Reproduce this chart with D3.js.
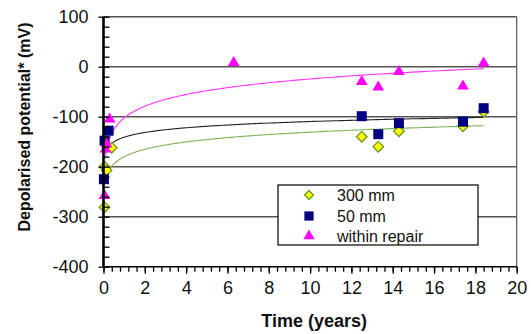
<!DOCTYPE html>
<html><head><meta charset="utf-8">
<script src="https://cdn.jsdelivr.net/npm/d3@7"></script>
<style>
body{margin:0;background:#fff;}
svg{display:block;font-family:"Liberation Sans",Arial,sans-serif;}
</style></head>
<body><svg id="c" width="531" height="334"></svg>
<script>
// ---- data ----
const seriesNames = ["300 mm", "50 mm", "within repair"];
const x300 = [0.05, 0.05, 0.15, 0.4, 12.5, 13.3, 14.3, 17.4, 18.4];
const y300 = [-281, -200, -207, -162, -140, -160, -129, -119, -90];
const x50 = [0.02, 0.05, 0.25, 12.5, 13.3, 14.3, 17.4, 18.4];
const y50 = [-225, -148, -128, -99, -135, -113, -110, -83];
const xRep = [0.05, 0.1, 0.15, 0.3, 6.3, 12.5, 13.3, 14.3, 17.4, 18.4];
const yRep = [-258, -165, -155, -105, 8, -30, -41, -10, -39, 7];
// logarithmic trendlines y = a*ln(x) + b
const trendA = [21.3, 13.6, 33.9];
const trendB = [-180, -141, -102.6];
const trendRange = [0.1, 18.4];
const xTicks = [0, 2, 4, 6, 8, 10, 12, 14, 16, 18, 20];
const yTicks = [100, 0, -100, -200, -300, -400];

const svg = d3.select("#c");
const L = 103.5, R = 516.7, T = 16.7, B = 266.7;
const x = d3.scaleLinear().domain([0, 20]).range([L, R]);
const y = d3.scaleLinear().domain([-400, 100]).range([B, T]);

// plot background
svg.append("rect").attr("x", L).attr("y", T).attr("width", R - L).attr("height", B - T).attr("fill", "#fff");

// gridlines
svg.append("g").selectAll("line").data(yTicks.filter(v => v > -400)).join("line")
  .attr("x1", L).attr("x2", R).attr("y1", d => y(d)).attr("y2", d => y(d))
  .attr("stroke", "#555").attr("stroke-width", 1.4);
// right border
svg.append("line").attr("x1", R).attr("x2", R).attr("y1", T).attr("y2", B)
  .attr("stroke", "#555").attr("stroke-width", 1.2);

// trend lines
const trendColors = ["#7fb35a", "#222", "#ff33ff"];
trendA.forEach((a, i) => {
  const xs = d3.range(0, 301).map(k => trendRange[0] * Math.pow(trendRange[1] / trendRange[0], k / 300));
  svg.append("path")
    .attr("d", d3.line().x(v => x(v)).y(v => y(a * Math.log(v) + trendB[i]))(xs))
    .attr("fill", "none").attr("stroke", trendColors[i]).attr("stroke-width", 1.1);
});

// markers
const diamond = d3.symbol().type(d3.symbolSquare).size(56);
const square = d3.symbol().type(d3.symbolSquare).size(100);
const tri = d3.symbol().type(d3.symbolTriangle).size(60);

function drawMarkers(xs, ys, sym, fill, stroke, sw, rot) {
  svg.append("g").selectAll("path").data(xs.map((v, i) => [v, ys[i]])).join("path")
    .attr("d", sym)
    .attr("transform", d => `translate(${x(d[0])},${y(d[1])}) rotate(${rot})`)
    .attr("fill", fill).attr("stroke", stroke).attr("stroke-width", sw);
}
drawMarkers(x300, y300, diamond, "#ffff00", "#6b9a22", 1.3, 45);
drawMarkers(x50, y50, square, "#000080", "none", 0, 0);
drawMarkers(xRep, yRep, tri, "#ff00ff", "none", 0, 0);

// axes
const fmt = d => String(d);
const xAxis = svg.append("g").attr("transform", `translate(0,${B})`)
  .call(d3.axisBottom(x).tickValues(xTicks).tickSize(7).tickPadding(8).tickFormat(fmt));
const xMinor = svg.append("g").attr("transform", `translate(0,${B})`)
  .call(d3.axisBottom(x).tickValues(d3.range(0, 51).map(k => k * 0.4)).tickSize(5).tickFormat(""));
const yAxis = svg.append("g").attr("transform", `translate(${L},0)`)
  .call(d3.axisLeft(y).tickValues(yTicks).tickSize(5).tickPadding(10).tickFormat(fmt));
const yMinor = svg.append("g").attr("transform", `translate(${L},0)`)
  .call(d3.axisRight(y).tickValues(d3.range(0, 26).map(k => -400 + k * 20)).tickSize(6).tickFormat(""));
[xAxis, xMinor, yAxis, yMinor].forEach(g => {
  g.select(".domain").remove();
  g.selectAll("line").attr("stroke", "#000").attr("stroke-width", 1.3);
  g.selectAll("text").attr("font-size", 18).attr("fill", "#111").attr("font-family", "Liberation Sans, Arial, sans-serif");
});
// axis lines
svg.append("line").attr("x1", L).attr("x2", R).attr("y1", B).attr("y2", B).attr("stroke", "#000").attr("stroke-width", 1.5);
svg.append("line").attr("x1", L).attr("x2", L).attr("y1", T).attr("y2", B).attr("stroke", "#000").attr("stroke-width", 2.6);

// axis titles
svg.append("text").attr("x", (L + R) / 2 + 4).attr("y", 327).attr("text-anchor", "middle")
  .attr("font-size", 18).attr("font-weight", "bold").attr("fill", "#111").text("Time (years)");
svg.append("text").attr("transform", "translate(30,127) rotate(-90)").attr("text-anchor", "middle")
  .attr("font-size", 16).attr("font-weight", "bold").attr("fill", "#111").text("Depolarised potential* (mV)");

// legend
const lg = svg.append("g");
lg.append("rect").attr("x", 278).attr("y", 185).attr("width", 200).attr("height", 60)
  .attr("fill", "#fff").attr("stroke", "#000").attr("stroke-width", 1.2);
const legSyms = [
  {sym: d3.symbol().type(d3.symbolSquare).size(40), fill: "#ffff00", stroke: "#6b9a22", sw: 1.3, rot: 45},
  {sym: d3.symbol().type(d3.symbolSquare).size(85), fill: "#000080", stroke: "none", sw: 0, rot: 0},
  {sym: d3.symbol().type(d3.symbolTriangle).size(55), fill: "#ff00ff", stroke: "none", sw: 0, rot: 0}
];
const legY = [195, 216, 236];
seriesNames.forEach((n, i) => {
  lg.append("path").attr("d", legSyms[i].sym).attr("transform", `translate(309,${legY[i]}) rotate(${legSyms[i].rot})`)
    .attr("fill", legSyms[i].fill).attr("stroke", legSyms[i].stroke).attr("stroke-width", legSyms[i].sw);
  lg.append("text").attr("x", 337).attr("y", legY[i] + 6).attr("font-size", 16).attr("fill", "#111").text(n);
});
</script></body></html>
